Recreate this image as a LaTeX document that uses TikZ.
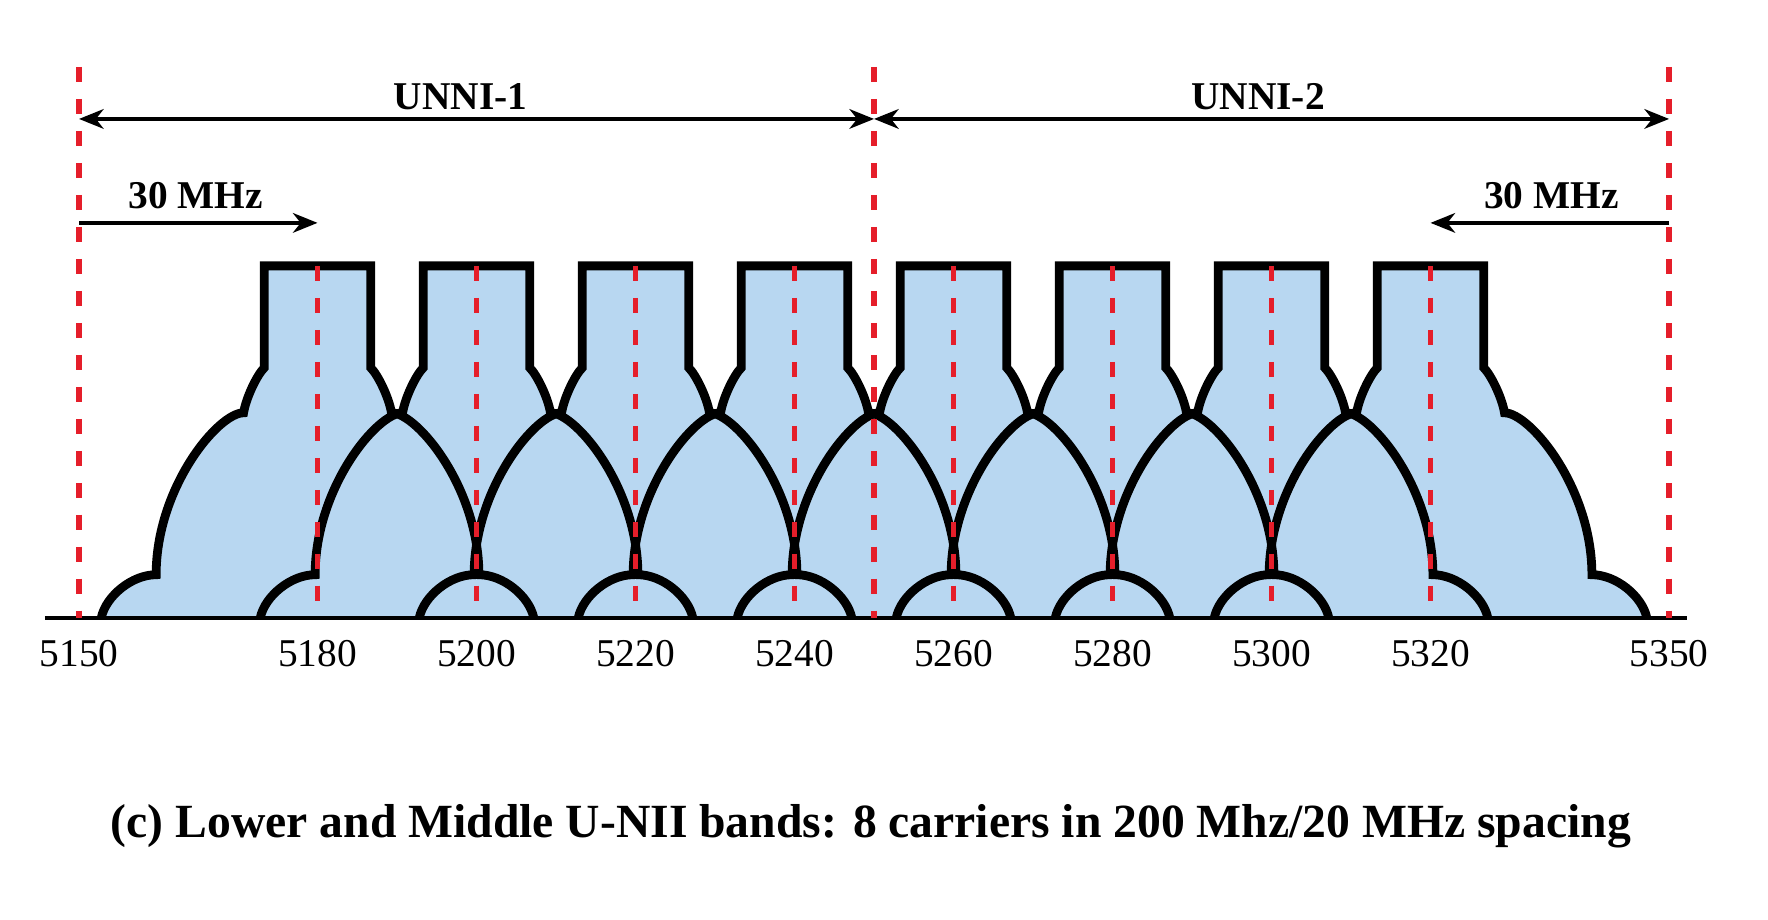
\documentclass[tikz,border=0pt]{standalone}
\usepackage{fontspec}
\setmainfont{Liberation Serif}
\usetikzlibrary{arrows.meta}

\definecolor{maskblue}{RGB}{184,215,241}
\definecolor{bandred}{RGB}{229,30,42}

\newcommand{\maskpath}{(-27.2,0) .. controls (-26.6,22) and (-23.3,43) .. (-20.3,43)
  .. controls (-20.3,130) and (-12.5,205) .. (-9.3,205)
  .. controls (-9.0,220) and (-7.6,243) .. (-6.7,250)
  -- (-6.7,352) -- (6.7,352) -- (6.7,250)
  .. controls (7.6,243) and (9.0,220) .. (9.3,205)
  .. controls (12.5,205) and (20.3,130) .. (20.3,43)
  .. controls (23.3,43) and (26.6,22) .. (27.2,0)}

\tikzset{
  maskline/.style={line width=2.5pt},
  redline/.style={bandred, line width=1.6pt, dash pattern=on 4.3pt off 4.8pt},
  dimarrow/.style={line width=1pt},
  tip/.tip={Stealth[length=7pt,width=5.6pt,inset=2.2pt]}
}

\begin{document}
\begin{tikzpicture}[x=0.0795cm, y=0.01cm]

      \useasboundingbox (-9.94,-302) rectangle (212.45,618);

      \foreach \c in {30,50,...,170}
        \fill[maskblue, shift={(\c,0)}] \maskpath -- cycle;
      \foreach \c in {30,50,...,170}
        \draw[maskline, shift={(\c,0)}] \maskpath;

      \coordinate (axisL) at (-4.3,0);
      \coordinate (axisR) at (202.3,0);
      \draw[line width=1.1pt] (axisL) -- (axisR);

      \begin{scope}[redline]
        \draw (0,551)   -- (0,0);
        \draw (100,551) -- (100,0);
        \draw (200,551) -- (200,0);
        \foreach \c in {30,50,...,170}
          \draw (\c,352) -- (\c,0);
      \end{scope}

      \coordinate (u0) at (0,499);
      \coordinate (u1) at (100,499);
      \coordinate (u2) at (200,499);
      \coordinate (m0) at (0,395);
      \coordinate (m1) at (30,395);
      \coordinate (m2) at (170,395);
      \coordinate (m3) at (200,395);

      \begin{scope}[dimarrow]
        \draw[tip-tip] (u0) -- (u1);
        \draw[tip-tip] (u1) -- (u2);
        \draw[-tip] (m0) -- (m1);
        \draw[-tip] (m3) -- (m2);
      \end{scope}

      \begin{scope}[every node/.style={anchor=base, inner sep=0pt,
          font=\fontsize{11.2}{13}\selectfont\bfseries}]
        \node (unni1) at (48,508)    {UNNI-1};
        \node (unni2) at (148.3,508) {UNNI-2};
        \node (low30) at (14.7,409)  {30 MHz};
        \node (up30)  at (185.2,409) {30 MHz};
      \end{scope}

      \begin{scope}[every node/.style={anchor=base, inner sep=0pt,
          font=\fontsize{11.2}{13}\selectfont}]
        \node (f5150) at (0,-49)   {5150};
        \node (f5180) at (30,-49)  {5180};
        \node (f5200) at (50,-49)  {5200};
        \node (f5220) at (70,-49)  {5220};
        \node (f5240) at (90,-49)  {5240};
        \node (f5260) at (110,-49) {5260};
        \node (f5280) at (130,-49) {5280};
        \node (f5300) at (150,-49) {5300};
        \node (f5320) at (170,-49) {5320};
        \node (f5350) at (200,-49) {5350};
      \end{scope}

      \node[anchor=base, inner sep=0pt, font=\fontsize{13.55}{16}\selectfont\bfseries]
        (caption) at (99.6,-220)
        {(c) Lower and Middle U-NII bands: 8 carriers in 200 Mhz/20 MHz spacing};

    \end{tikzpicture}
\end{document}
